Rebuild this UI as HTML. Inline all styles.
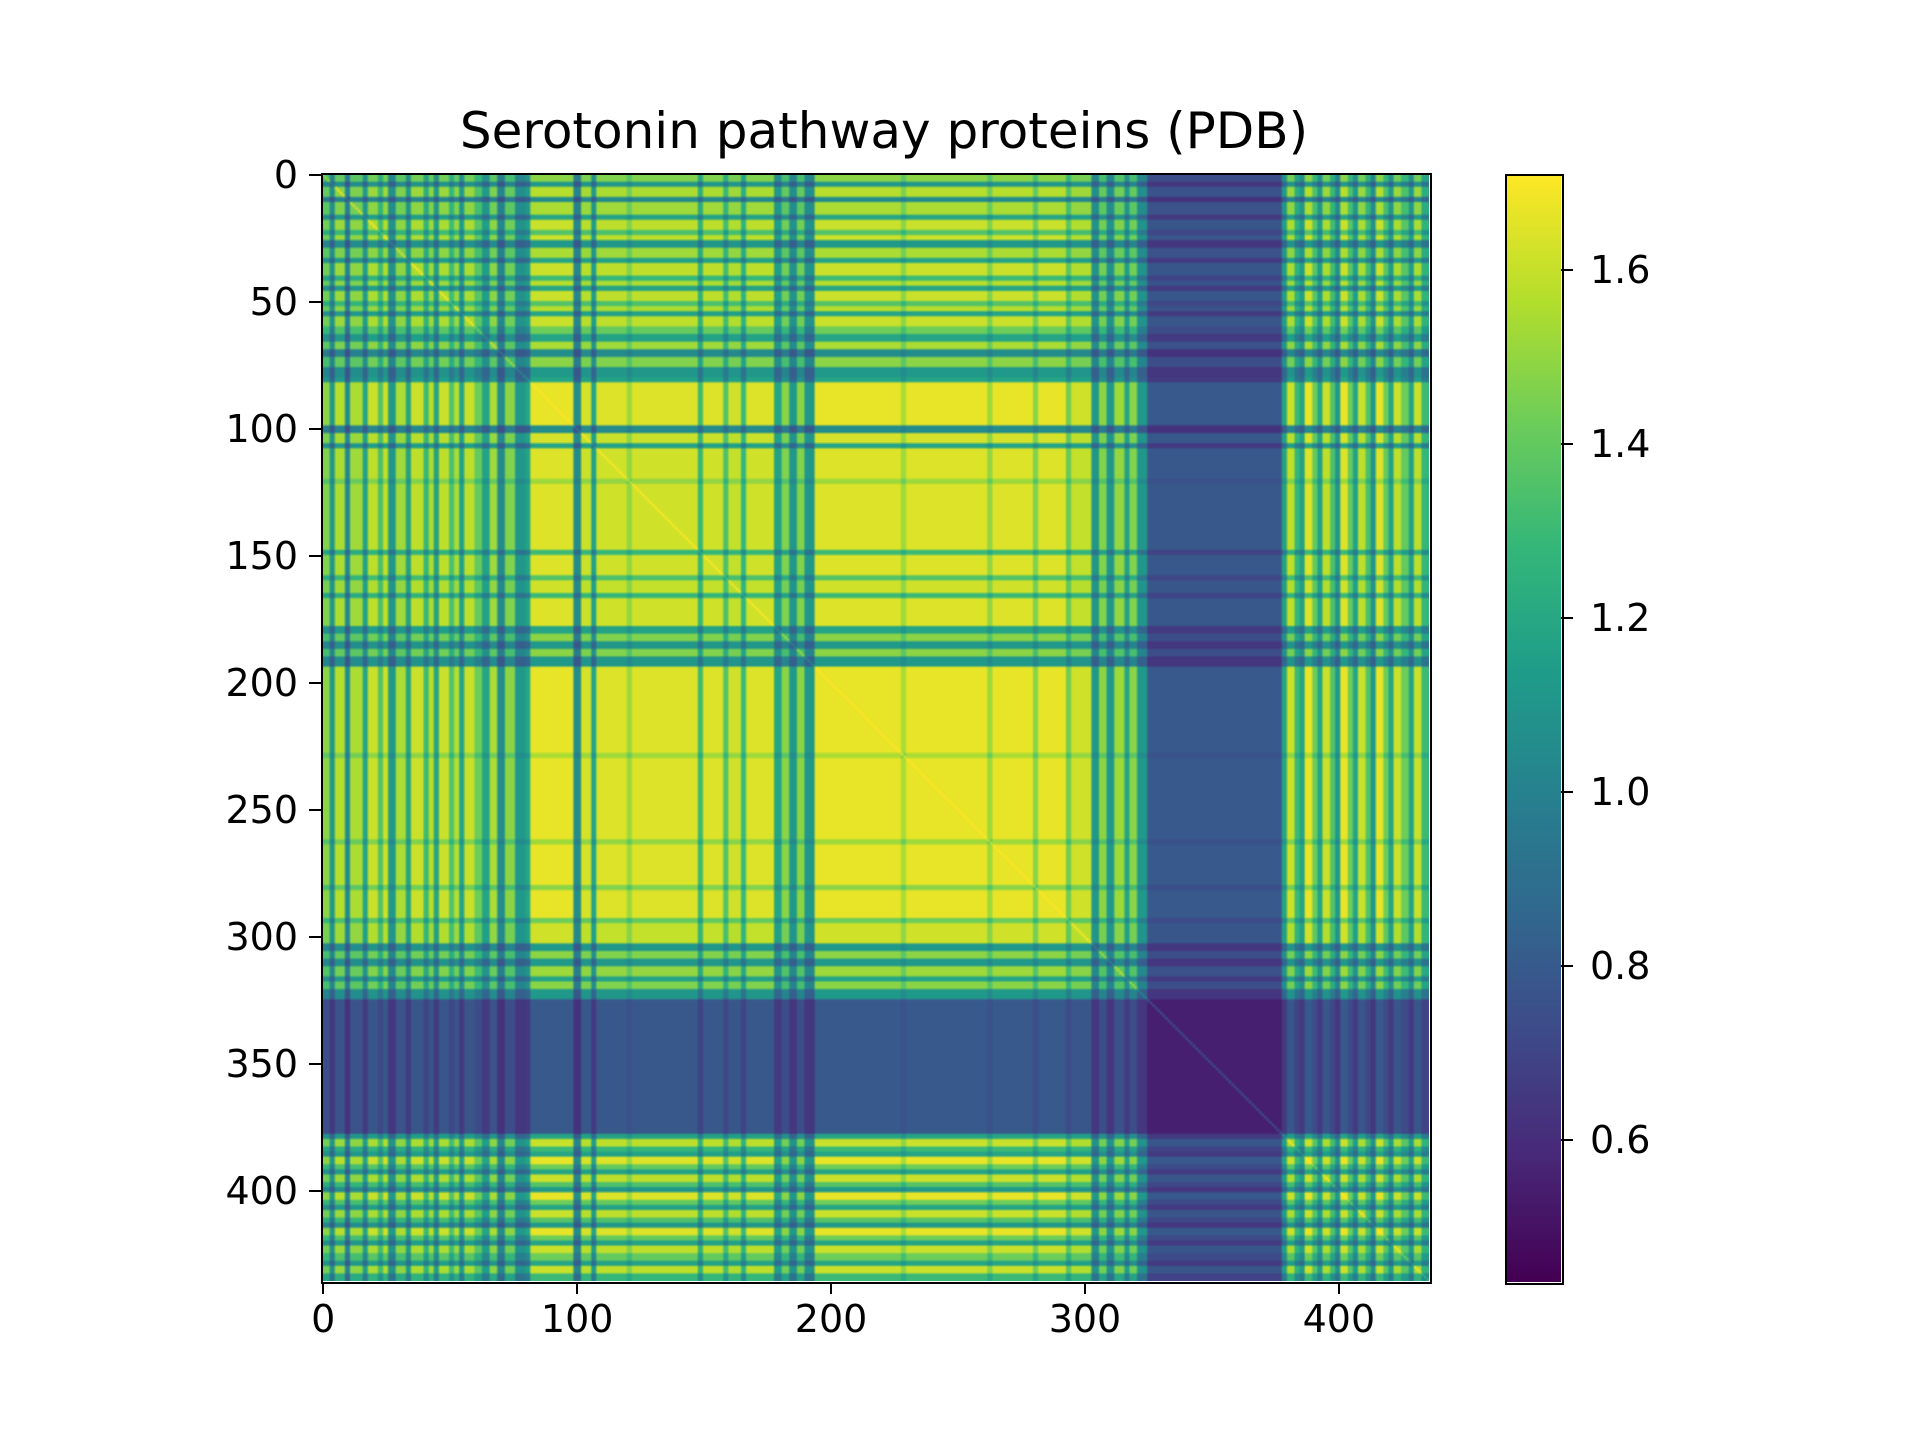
<!DOCTYPE html>
<html><head><meta charset="utf-8">
<style>
html,body{margin:0;padding:0;background:#fff;}
#root{position:relative;width:1920px;height:1440px;overflow:hidden;font-family:"DejaVu Sans","Liberation Sans",sans-serif;color:#000;}
.t{position:absolute;font-size:38px;white-space:nowrap;line-height:1;}
.tk{position:absolute;background:#000;}
canvas{position:absolute;}
</style></head>
<body>
<div id="root">
<div class="t" style="left:884px;top:106px;font-size:50px;transform:translateX(-50%);">Serotonin pathway proteins (PDB)</div>
<canvas id="hm" width="436" height="436" style="left:322px;top:174px;width:1107px;height:1107px;"></canvas>
<div style="position:absolute;left:321px;top:173px;width:1107px;height:1107px;border:2px solid #000;"></div>
<canvas id="cb" width="1" height="256" style="left:1506px;top:175px;width:55px;height:1107px;"></canvas>
<div style="position:absolute;left:1505px;top:174px;width:55px;height:1107px;border:2px solid #000;"></div>
<div id="ax"></div>
</div>
<script>
const N = 436;
const segStarts = [0,3,5,9,11,16,18,22,24,26,29,33,35,40,42,44,46,50,52,54,56,60,63,66,69,72,76,80,82,99,102,106,108,120,122,148,150,158,160,165,167,178,181,184,187,190,194,228,230,262,264,280,282,293,295,303,306,309,312,316,318,321,325,378,380,383,385,387,390,392,394,397,399,401,404,406,408,411,413,415,418,420,422,425,428,430,433];
const segLevels = [0.85,0.55,0.92,0.5,0.9,0.6,0.95,0.75,0.95,0.55,0.9,0.6,0.95,0.7,0.92,0.6,0.95,0.75,0.92,0.6,0.95,0.8,0.6,0.9,0.5,0.85,0.55,0.6,1.0,0.5,0.97,0.6,0.98,0.88,0.98,0.7,0.98,0.75,0.96,0.7,0.98,0.6,0.85,0.55,0.85,0.55,1.0,0.9,1.0,0.88,1.0,0.85,1.0,0.8,0.96,0.55,0.85,0.55,0.88,0.6,0.85,0.55,0.28,0.6,0.95,0.7,0.6,1.0,0.8,0.6,0.95,0.75,0.55,1.0,0.8,0.6,0.95,0.75,0.55,1.0,0.8,0.6,0.95,0.8,0.6,0.95,0.7];
const xTicks = [0,100,200,300,400];
const yTicks = [0,50,100,150,200,250,300,350,400];
const cbTicks = [0.6,0.8,1.0,1.2,1.4,1.6];
const vmin = 0.437, vmax = 1.71;

const vir = [[68,1,84],[72,40,120],[62,74,137],[49,104,142],[38,130,142],[31,158,137],[53,183,121],[109,205,89],[180,222,44],[253,231,37]];
function cmap(t){t=Math.max(0,Math.min(1,t));const f=t*(vir.length-1),i=Math.min(vir.length-2,Math.floor(f)),r=f-i;
 return vir[i].map((c,k)=>Math.round(c+(vir[i+1][k]-c)*r));}
const prof=[];
for(let i=0;i<N;i++){let l=segLevels[0];for(let s=0;s<segStarts.length;s++){if(segStarts[s]<=i)l=segLevels[s];}prof.push(l);}
const hm=document.getElementById('hm').getContext('2d');
const img=hm.createImageData(N,N);
for(let r=0;r<N;r++)for(let c=0;c<N;c++){
 let v=0.45+1.22*prof[r]*prof[c]; if(r===c)v=Math.min(vmax,v+0.2);
 const col=cmap((v-vmin)/(vmax-vmin)),p=(r*N+c)*4;
 img.data[p]=col[0];img.data[p+1]=col[1];img.data[p+2]=col[2];img.data[p+3]=255;}
hm.putImageData(img,0,0);
const cb=document.getElementById('cb').getContext('2d');
for(let k=0;k<256;k++){const col=cmap(1-k/255);cb.fillStyle=`rgb(${col})`;cb.fillRect(0,k,1,1);}

const ax=document.getElementById('ax');
const S=1107/N, X0=322, Y0=174;
const xs=v=>X0+(v+0.5)*S, ys=v=>Y0+(v+0.5)*S;
const cy=v=>1282-(v-vmin)/(vmax-vmin)*1108;
function add(html){ax.insertAdjacentHTML('beforeend',html);}
xTicks.forEach(v=>{const x=xs(v);
 add(`<div class="tk" style="left:${x-1}px;top:1282px;width:2px;height:12px"></div>`);
 add(`<div class="t" style="left:${x}px;top:1300px;transform:translateX(-50%)">${v}</div>`);});
yTicks.forEach(v=>{const y=ys(v);
 add(`<div class="tk" style="left:309px;top:${y-1}px;width:12px;height:2px"></div>`);
 add(`<div class="t" style="right:${1920-298}px;top:${y-19}px">${v}</div>`);});
cbTicks.forEach(v=>{const y=cy(v);
 add(`<div class="tk" style="left:1561px;top:${y-1}px;width:12px;height:2px"></div>`);
 add(`<div class="t" style="left:1590px;top:${y-19}px">${v.toFixed(1)}</div>`);});
</script>
</body></html>
